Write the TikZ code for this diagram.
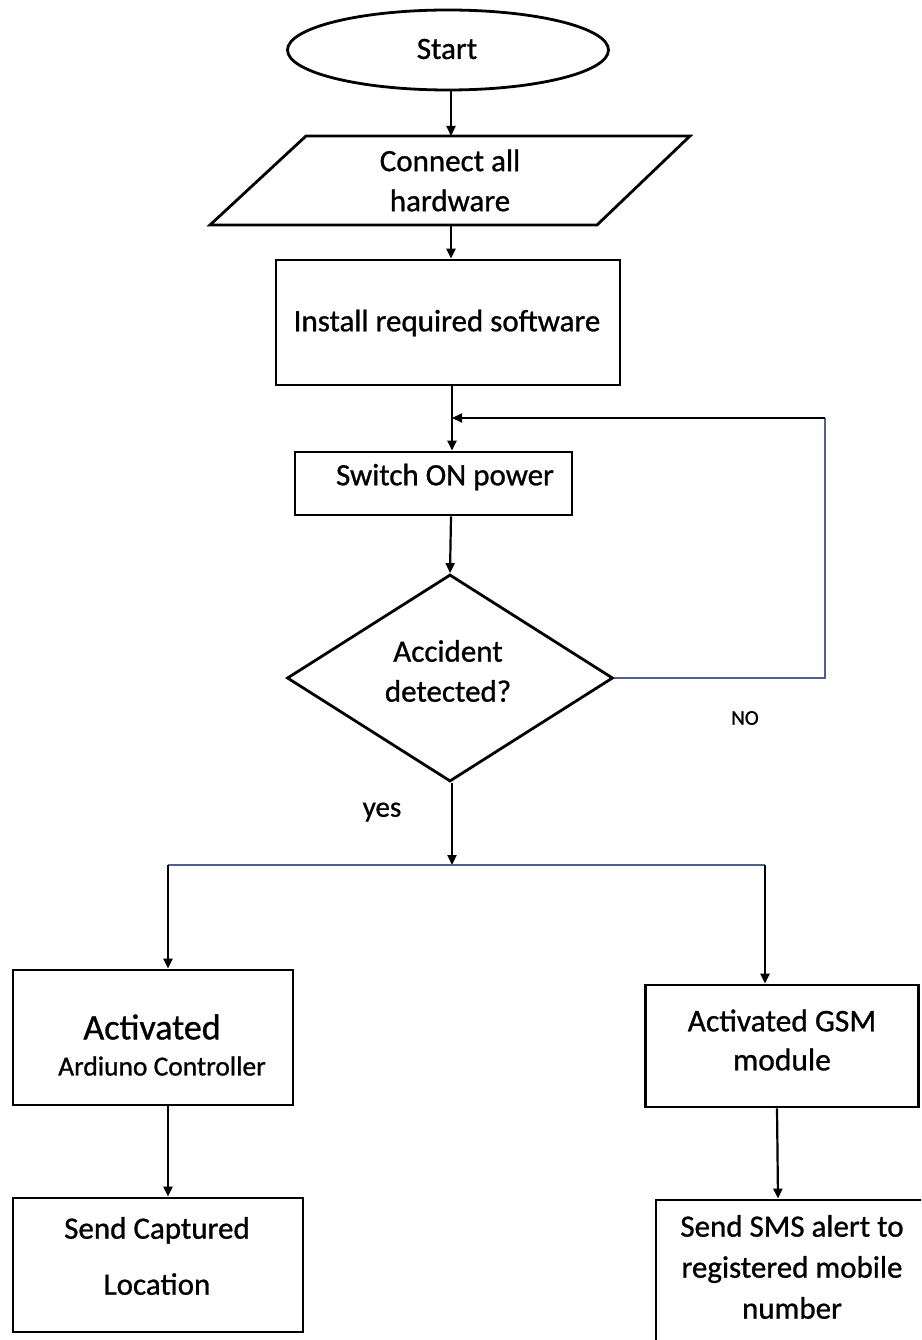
\documentclass[tikz,border=0pt]{standalone}
\usepackage{fontspec}
\setmainfont{Carlito}[BoldFont=Carlito, BoldFeatures={FakeBold=0.9}]
\usetikzlibrary{shapes.geometric,arrows.meta}
\definecolor{loopblue}{RGB}{80,96,140}
\tikzset{
  box/.style={draw=black, line width=2.8pt, rectangle, inner sep=0pt, align=center},
  txt/.style={font=\fontsize{31}{40}\selectfont\bfseries, align=center, inner sep=0pt},
  conn/.style={draw=black, line width=2.2pt, -{Triangle[length=10pt,width=9pt]}},
  bluel/.style={draw=loopblue, line width=1.8pt},
}
\begin{document}
\begin{tikzpicture}[x=1pt,y=-1pt]
\useasboundingbox (0,0) rectangle (921,1340);
\clip (0,0) rectangle (921,1340);
\fill[white] (0,0) rectangle (921,1340);

% Start
\node[ellipse, draw=black, line width=2.8pt, minimum width=321pt, minimum height=80pt, inner sep=0pt] (start) at (448,50) {};
\node[txt] (starttxt) at (447,49) {Start};

% parallelogram
\draw[line width=2.8pt, line join=miter] (306,136) -- (690,136) -- (597,225) -- (210,225) -- cycle;
\node[txt, minimum height=89pt] (hw) at (450,180.5) {Connect all\\hardware};

% install
\node[box, minimum width=344pt, minimum height=125pt] (inst) at (448,322.5) {};
\node[txt] (insttxt) at (447,323) {Install required software};

% switch
\node[box, minimum width=277pt, minimum height=63pt] (sw) at (433.5,483.5) {};
\node[txt] (swtxt) at (445,477) {Switch ON power};

% decision
\node[diamond, draw=black, line width=2.8pt, minimum width=326pt, minimum height=207pt, inner sep=0pt,
      aspect=1.57] (dec) at (450,678) {};
\node[txt] (dectxt) at (448,671) {Accident\\detected?};

% labels
\node[font=\fontsize{21}{24}\selectfont\bfseries, inner sep=0pt] (no) at (745,718) {NO};
\node[font=\fontsize{29}{32}\selectfont\bfseries, inner sep=0pt] (yes) at (382,812) {yes};

% lower boxes
\node[box, minimum width=280pt, minimum height=135pt] (ard) at (153,1037.5) {};
\node[txt, font=\fontsize{36}{40}\selectfont\bfseries] (ardt1) at (152,1027) {Activated};
\node[txt, font=\fontsize{27.5}{30}\selectfont\bfseries] (ardt2) at (162,1066) {Ardiuno Controller};

\node[box, minimum width=273pt, minimum height=122pt] (gsm) at (782,1046) {};
\node[txt, font=\fontsize{31.5}{39}\selectfont\bfseries] (gsmt) at (782,1040) {Activated GSM\\module};

\node[box, minimum width=290pt, minimum height=134pt] (cap) at (158,1265) {};
\node[txt, font=\fontsize{31}{56}\selectfont\bfseries] (capt) at (157,1256) {Send Captured\\Location};

\node[box, minimum width=284pt, minimum height=160pt] (sms) at (798,1280) {};
\node[txt, font=\fontsize{31}{41}\selectfont\bfseries] (smst) at (792,1267) {Send SMS alert to\\registered mobile\\number};

% coordinates
\coordinate (lp) at (825,418);
\coordinate (split) at (452,865);
\coordinate (sl) at (168,865);
\coordinate (sr) at (765,865);

% connectors
\draw[conn] (start.south -| 451,0) -- (451,136);
\draw[conn] (451,225) -- (inst.north -| 451,0);
\draw[conn] (inst.south -| 452,0) -- (sw.north -| 452,0);
\draw[conn] (sw.south -| 451,0) -- (dec.north);
\draw[bluel] (dec.east) -| (lp);
\draw[conn, line width=2pt] (lp) -- (lp -| 452,0);
\draw[conn] (dec.south -| 452,0) -- (split);
\draw[bluel] (sl) -- (sr);
\draw[conn] (sl) -- (sl |- ard.north);
\draw[conn] (sr) -- (sr |- gsm.north);
\draw[conn] (ard.south -| 168,0) -- (cap.north -| 168,0);
\draw[conn] (gsm.south -| 777,0) -- (sms.north -| 778,0);
\end{tikzpicture}
\end{document}
